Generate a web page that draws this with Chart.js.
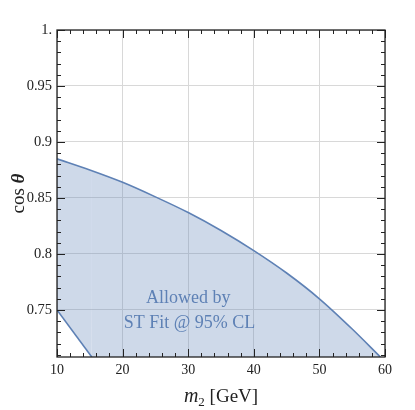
<!DOCTYPE html>
<html>
<head>
<meta charset="utf-8">
<script src="https://cdn.jsdelivr.net/npm/chart.js@4.4.1/dist/chart.umd.min.js"></script>
<style>
    html, body { margin: 0; padding: 0; background: #fff; }
    #wrap { width: 415px; height: 410px; }
</style>
</head>
<body>
<div id="wrap"><canvas id="chart"></canvas></div>
<script>

// upper boundary of the allowed region
const boundX = [ 10, 15, 20, 25, 30, 35, 40, 45, 50, 55, 59.3 ];
const boundY = [ 0.885, 0.875, 0.864, 0.851, 0.837, 0.821, 0.803, 0.783, 0.760, 0.733, 0.708 ];

// lower edge of the allowed region
const edgeX = [ 10, 15.3, 59.3 ];
const edgeY = [ 0.75, 0.708, 0.708 ];

// axes
const xMajor = [ 10, 20, 30, 40, 50, 60 ];
const xLabels = [ '10', '20', '30', '40', '50', '60' ];
const xMinor = [ 12, 14, 16, 18, 22, 24, 26, 28, 32, 34, 36, 38, 42, 44, 46, 48, 52, 54, 56, 58 ];
const yMajor = [ 0.75, 0.8, 0.85, 0.9, 0.95, 1.0 ];
const yLabels = [ '0.75', '0.8', '0.85', '0.9', '0.95', '1.' ];
const yMinor = [ 0.71, 0.72, 0.73, 0.74, 0.76, 0.77, 0.78, 0.79, 0.81, 0.82, 0.83, 0.84,
                 0.86, 0.87, 0.88, 0.89, 0.91, 0.92, 0.93, 0.94, 0.96, 0.97, 0.98, 0.99 ];

const noteLines = [ 'Allowed by', 'ST Fit @ 95% CL' ];

const blue = 'rgb( 94 129 181 )',
      serif = '"Liberation Serif", "DejaVu Serif", serif',
      ink = '#222';

/**
 * frame, inward ticks, note and axis titles
 */
const frame = {
    id: 'frame',
    afterDraw( chart ) {

        let ctx = chart.ctx,
            a = chart.chartArea,
            sx = chart.scales.x,
            sy = chart.scales.y;

        ctx.save();
        ctx.strokeStyle = ink;
        ctx.lineWidth = 1;

        let tick = ( vals, len, horiz ) => {
            vals.forEach( v => {
                ctx.beginPath();
                if( horiz ) {
                    let p = Math.round( sx.getPixelForValue( v ) ) + 0.5;
                    ctx.moveTo( p, a.bottom ); ctx.lineTo( p, a.bottom - len );
                    ctx.moveTo( p, a.top ); ctx.lineTo( p, a.top + len );
                } else {
                    let p = Math.round( sy.getPixelForValue( v ) ) + 0.5;
                    ctx.moveTo( a.left, p ); ctx.lineTo( a.left + len, p );
                    ctx.moveTo( a.right, p ); ctx.lineTo( a.right - len, p );
                }
                ctx.stroke();
            } );
        };

        tick( xMajor, 8, true );
        tick( xMinor, 4, true );
        tick( yMajor, 8, false );
        tick( yMinor, 4, false );

        ctx.lineWidth = 1.3;
        ctx.strokeRect( a.left, a.top, a.right - a.left, a.bottom - a.top );

        // note inside the region
        ctx.fillStyle = blue;
        ctx.font = '18px ' + serif;
        ctx.textAlign = 'center';
        ctx.textBaseline = 'middle';
        ctx.fillText( noteLines[0], sx.getPixelForValue( 30 ), sy.getPixelForValue( 0.7607 ) );
        ctx.fillText( noteLines[1], sx.getPixelForValue( 30.2 ), sy.getPixelForValue( 0.7385 ) );

        // x title: m_2 [GeV]
        ctx.fillStyle = ink;
        ctx.textAlign = 'left';
        ctx.textBaseline = 'alphabetic';
        let f1 = 'italic 20px ' + serif,
            f2 = '13px ' + serif,
            f3 = '19px ' + serif,
            t3 = ' [GeV]';
        ctx.font = f1; let w1 = ctx.measureText( 'm' ).width;
        ctx.font = f2; let w2 = ctx.measureText( '2' ).width;
        ctx.font = f3; let w3 = ctx.measureText( t3 ).width;
        let x0 = ( a.left + a.right ) / 2 - ( w1 + w2 + w3 ) / 2,
            base = 402;
        ctx.font = f1; ctx.fillText( 'm', x0, base );
        ctx.font = f2; ctx.fillText( '2', x0 + w1, base + 4 );
        ctx.font = f3; ctx.fillText( t3, x0 + w1 + w2, base );

        // y title: cos theta
        ctx.translate( 24, ( a.top + a.bottom ) / 2 );
        ctx.rotate( -Math.PI / 2 );
        let g1 = '19px ' + serif,
            g2 = 'bold italic 19px ' + serif;
        ctx.font = g1; let v1 = ctx.measureText( 'cos ' ).width;
        ctx.font = g2; let v2 = ctx.measureText( 'θ' ).width;
        ctx.font = g1; ctx.fillText( 'cos ', -( v1 + v2 ) / 2, 0 );
        ctx.font = g2; ctx.fillText( 'θ', -( v1 + v2 ) / 2 + v1, 0 );

        ctx.restore();

    }
};

new Chart( document.getElementById( 'chart' ).getContext( '2d' ), {
    type: 'line',
    data: {
        datasets: [ {
            data: boundX.map( ( x, i ) => ( { x: x, y: boundY[ i ] } ) ),
            borderColor: blue,
            borderWidth: 1.6,
            backgroundColor: 'rgba( 94 129 181 / 0.3 )',
            cubicInterpolationMode: 'monotone',
            pointRadius: 0,
            fill: '+1'
        }, {
            data: edgeX.map( ( x, i ) => ( { x: x, y: edgeY[ i ] } ) ),
            borderColor: blue,
            borderWidth: 1.6,
            pointRadius: 0,
            fill: false,
            segment: {
                borderColor: ( c ) => c.p0DataIndex > 0 ? 'rgba( 0 0 0 / 0 )' : blue
            }
        } ]
    },
    plugins: [ frame ],
    options: {
        responsive: true,
        maintainAspectRatio: false,
        animation: false,
        layout: {
            padding: { top: 30, right: 30, left: 0, bottom: 0 }
        },
        plugins: {
            legend: { display: false },
            tooltip: { enabled: false }
        },
        scales: {
            x: {
                type: 'linear',
                min: 10,
                max: 60,
                afterBuildTicks: ( s ) => { s.ticks = xMajor.map( v => ( { value: v } ) ); },
                afterFit: ( s ) => { s.height = 53; },
                border: { display: false },
                grid: { color: '#d8d8d8', lineWidth: 1, drawTicks: false },
                ticks: {
                    padding: 5,
                    maxRotation: 0,
                    color: ink,
                    font: { family: serif, size: 14 },
                    callback: ( v ) => xLabels[ xMajor.indexOf( v ) ]
                }
            },
            y: {
                type: 'linear',
                min: 0.708,
                max: 1.0,
                afterBuildTicks: ( s ) => { s.ticks = yMajor.map( v => ( { value: v } ) ); },
                afterFit: ( s ) => { s.width = 57; },
                border: { display: false },
                grid: { color: '#d8d8d8', lineWidth: 1, drawTicks: false },
                ticks: {
                    padding: 5,
                    color: ink,
                    font: { family: serif, size: 14.5 },
                    callback: ( v ) => yLabels[ yMajor.indexOf( v ) ]
                }
            }
        }
    }
} );

</script>
</body>
</html>
